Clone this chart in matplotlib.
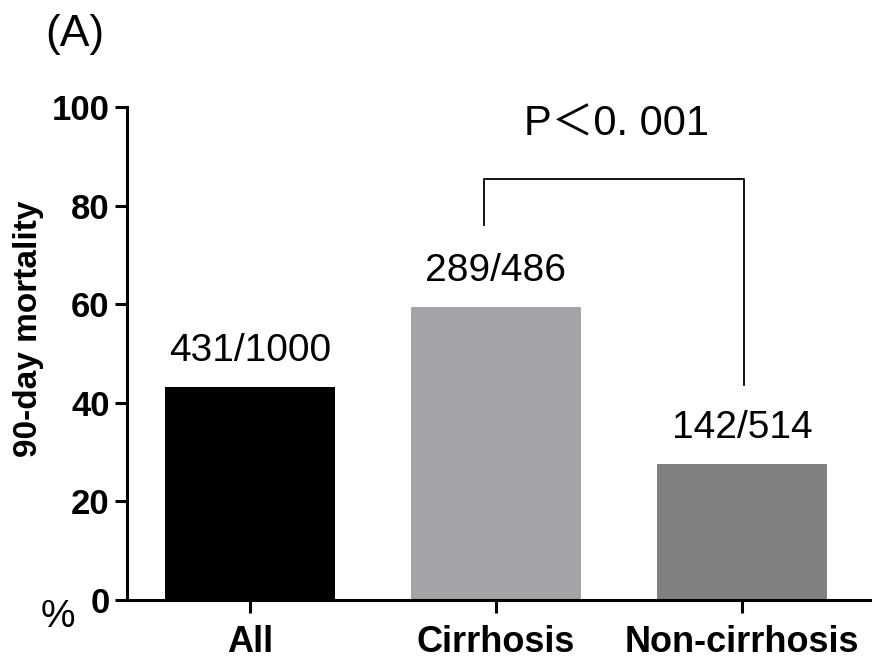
import matplotlib
matplotlib.use("Agg")
import matplotlib.pyplot as plt

groups = ['All', 'Cirrhosis', 'Non-cirrhosis']
deaths = [431, 289, 142]
totals = [1000, 486, 514]
mortality = [100 * d / t for d, t in zip(deaths, totals)]
colors = ['#000000', '#a4a4a8', '#808080']
yticks = [0, 20, 40, 60, 80, 100]
p_text = 'P＜0. 001'

plt.rcParams['font.family'] = ['Liberation Sans', 'Noto Sans CJK SC', 'DejaVu Sans']

fig = plt.figure(figsize=(8.75, 6.6), dpi=100)
ax = fig.add_axes([0.145, 0.091, 0.849, 0.747])

x = list(range(len(groups)))
ax.bar(x, mortality, width=0.69, color=colors)

for xi, v, d, t in zip(x, mortality, deaths, totals):
    ax.annotate(f'{d}/{t}', (xi, v), xytext=(0, 13), textcoords='offset points',
                ha='center', va='bottom', fontsize=28)

# significance bracket between cirrhosis and non-cirrhosis
ax.plot([0.95, 0.95, 2.01, 2.01], [76, 85.4, 85.4, 43.5], color='black', lw=1.3,
        clip_on=False)
ax.text(1.49, 96.5, p_text, ha='center', va='center', fontsize=30)

ax.set_xlim(-0.5, 2.52)
ax.set_ylim(0, 100)
ax.set_xticks(x)
ax.set_xticklabels(groups, fontsize=26, fontweight='bold')
ax.set_yticks(yticks)
ax.set_yticklabels([str(t) for t in yticks], fontsize=25, fontweight='bold')
ax.set_ylabel('90-day mortality', fontsize=24, fontweight='bold')
ax.yaxis.set_label_coords(-0.112, 0.55)
ax.spines['top'].set_visible(False)
ax.spines['right'].set_visible(False)
for s in ('left', 'bottom'):
    ax.spines[s].set_linewidth(2.2)
ax.tick_params(axis='both', width=2.2, length=9)
ax.tick_params(axis='x', pad=9)

fig.text(0.066, 0.065, '%', fontsize=28, ha='center', va='center')
fig.text(0.085, 0.948, '(A)', fontsize=32, ha='center', va='center')

fig.savefig('out.png', dpi=100)
